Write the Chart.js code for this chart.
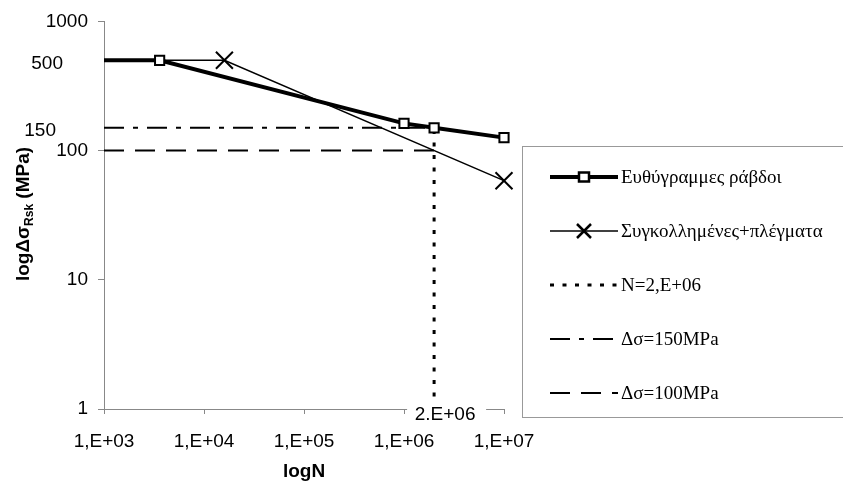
<!DOCTYPE html>
<html>
<head>
<meta charset="utf-8">
<script src="https://cdn.jsdelivr.net/npm/chart.js@4/dist/chart.umd.min.js"></script>
<style>
  html, body { margin: 0; padding: 0; background: #fff; }
  canvas { display: block; }
</style>
</head>
<body>
<canvas id="snChart" width="843" height="483"></canvas>
<script>
// S-N curves
const straightN = [1e3, 3.6e3, 1e6, 2e6, 1e7];
const straightS = [500, 500, 162.5, 150, 126];
const weldedN = [1e3, 1.6e4, 1e7];
const weldedS = [500, 500, 58.5];
// reference lines
const limitN = [2e6, 2e6];
const limitS = [1, 150];
const refN = [1e3, 2e6];
const ref150 = [150, 150];
const ref100 = [100, 100];
// axes
const xTicks = [1e3, 1e4, 1e5, 1e6, 1e7];
const yTicks = [1, 10, 100, 1000];
const yExtraLabels = [500, 150];
const markLabel = "2.E+06";
const seriesNames = ["Ευθύγραμμες ράβδοι", "Συγκολλημένες+πλέγματα", "N=2,E+06", "Δσ=150MPa", "Δσ=100MPa"];

const pts = (xs, ys) => xs.map((x, i) => ({ x, y: ys[i] }));
const SANS = '"Liberation Sans", Arial, sans-serif';
const SERIF = '"Liberation Serif", "Times New Roman", serif';

const datasets = [
  {
    label: seriesNames[0], data: pts(straightN, straightS),
    borderColor: "#000", borderWidth: 4, pointStyle: "rect",
    pointRadius: [0, 6.5, 6.5, 6.5, 6.5], pointBorderWidth: 2,
    pointBorderColor: "#000", pointBackgroundColor: "#fff", clip: false,
  },
  {
    label: seriesNames[1], data: pts(weldedN, weldedS),
    borderColor: "#000", borderWidth: 1.5, pointStyle: "crossRot",
    pointRadius: [0, 12, 12], pointBorderWidth: 2, pointBorderColor: "#000", clip: false,
  },
  {
    label: seriesNames[2], data: pts(limitN, limitS),
    borderColor: "#000", borderWidth: 3, borderDash: [4, 8.5], pointRadius: 0,
  },
  {
    label: seriesNames[3], data: pts(refN, ref150),
    borderColor: "#000", borderWidth: 2, borderDash: [20, 9, 5, 9], pointRadius: 0,
  },
  {
    label: seriesNames[4], data: pts(refN, ref100),
    borderColor: "#000", borderWidth: 2, borderDash: [20, 11], pointRadius: 0,
  },
];

const drawMarker = (ctx, style, x, y) => {
  ctx.save();
  ctx.lineWidth = 2.5;
  ctx.strokeStyle = "#000";
  ctx.setLineDash([]);
  if (style === "rect") {
    ctx.fillStyle = "#fff";
    ctx.fillRect(x - 5, y - 4.5, 10, 9);
    ctx.strokeRect(x - 5, y - 4.5, 10, 9);
  } else if (style === "crossRot") {
    ctx.beginPath();
    ctx.moveTo(x - 7, y - 7); ctx.lineTo(x + 7, y + 7);
    ctx.moveTo(x + 7, y - 7); ctx.lineTo(x - 7, y + 7);
    ctx.stroke();
  }
  ctx.restore();
};

const extras = {
  id: "extras",
  afterDraw(chart) {
    const { ctx, scales } = chart;
    const xs = scales.x, ys = scales.y;
    ctx.save();
    ctx.fillStyle = "#000";
    ctx.font = "19px " + SANS;
    ctx.textBaseline = "middle";
    ctx.textAlign = "right";
    // extra y labels
    ctx.fillText(String(yExtraLabels[0]), 63, ys.getPixelForValue(yExtraLabels[0]) + 3);
    ctx.fillText(String(yExtraLabels[1]), 56, ys.getPixelForValue(yExtraLabels[1]) + 3);

    // 2.E+06 mark on the x axis
    const mx = xs.getPixelForValue(limitN[0]);
    ctx.fillStyle = "#fff";
    ctx.fillRect(mx - 27, ys.bottom - 8, 79, 24);
    ctx.fillStyle = "#000";
    ctx.textAlign = "center";
    ctx.fillText(markLabel, mx + 11, ys.bottom + 6);

    // x title
    ctx.font = "bold 19px " + SANS;
    ctx.fillText("logN", (xs.left + xs.right) / 2, 472);

    // y title with subscript
    ctx.translate(22, 214);
    ctx.rotate(-Math.PI / 2);
    ctx.textAlign = "left";
    ctx.textBaseline = "alphabetic";
    const big = "bold 19px " + SANS, small = "bold 12px " + SANS;
    ctx.font = big; const w1 = ctx.measureText("logΔσ").width;
    ctx.font = small; const w2 = ctx.measureText("Rsk").width;
    ctx.font = big; const w3 = ctx.measureText(" (MPa)").width;
    let x0 = -(w1 + w2 + w3) / 2;
    ctx.font = big; ctx.fillText("logΔσ", x0, 7); x0 += w1;
    ctx.font = small; ctx.fillText("Rsk", x0, 11); x0 += w2;
    ctx.font = big; ctx.fillText(" (MPa)", x0, 7);
    ctx.restore();

    // legend
    ctx.save();
    ctx.strokeStyle = "#999";
    ctx.lineWidth = 1;
    ctx.strokeRect(522.5, 146.5, 340, 271);
    ctx.font = "19px " + SERIF;
    ctx.textBaseline = "middle";
    ctx.fillStyle = "#000";
    chart.data.datasets.forEach((ds, i) => {
      const y = 177 + i * 54;
      ctx.save();
      ctx.strokeStyle = "#000";
      ctx.lineWidth = ds.borderWidth;
      ctx.setLineDash(ds.borderDash || []);
      ctx.beginPath();
      ctx.moveTo(550, y);
      ctx.lineTo(618, y);
      ctx.stroke();
      ctx.restore();
      if (ds.pointStyle) drawMarker(ctx, ds.pointStyle, 584, y);
      ctx.fillText(ds.label, 621, y + 1);
    });
    ctx.restore();
  },
};

new Chart(document.getElementById("snChart"), {
  type: "line",
  data: { datasets },
  plugins: [extras],
  options: {
    responsive: false,
    animation: false,
    layout: { padding: { top: 21, right: 339, left: 0, bottom: 0 } },
    elements: { line: { tension: 0, fill: false } },
    plugins: { legend: { display: false }, tooltip: { enabled: false } },
    scales: {
      x: {
        type: "logarithmic", min: 1e3, max: 1e7,
        afterBuildTicks: (s) => { s.ticks = xTicks.map((v) => ({ value: v })); },
        afterFit: (s) => { s.height = 74; },
        ticks: {
          color: "#000", font: { family: SANS, size: 19 }, padding: 16,
          maxRotation: 0, autoSkip: false,
          callback: (v) => "1,E+" + String(Math.round(Math.log10(v))).padStart(2, "0"),
        },
        grid: { drawOnChartArea: false, tickLength: 5, color: "#888" },
        border: { color: "#888", width: 1 },
      },
      y: {
        type: "logarithmic", min: 1, max: 1000,
        afterBuildTicks: (s) => { s.ticks = yTicks.map((v) => ({ value: v })); },
        afterFit: (s) => { s.width = 104; },
        ticks: {
          color: "#000", font: { family: SANS, size: 19 }, padding: 10,
          callback: (v) => String(v),
        },
        grid: { drawOnChartArea: false, tickLength: 6, color: "#888" },
        border: { color: "#888", width: 1 },
      },
    },
  },
});
</script>
</body>
</html>
